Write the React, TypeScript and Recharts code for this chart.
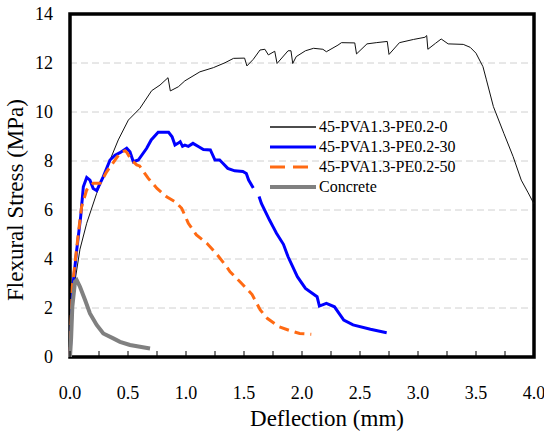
import React from 'react';
import { LineChart, Line, XAxis, YAxis, CartesianGrid, ReferenceArea, Legend, Label } from 'recharts';

const FONT = 'Liberation Serif, Tinos, Times New Roman, Times, DejaVu Serif, serif';

// [deflection (mm), flexural stress (MPa)]
const pva0: [number, number][] = [
  [0, 0], [0.03, 2.6], [0.043, 3.1], [0.086, 4.4], [0.144, 5.46], [0.23, 6.68], [0.345, 8.04], [0.416, 8.86],
  [0.503, 9.67], [0.603, 10.15], [0.704, 10.87], [0.776, 11.1], [0.845, 11.4], [0.865, 10.86], [0.934, 11.03],
  [0.99, 11.27], [1.12, 11.64], [1.236, 11.81], [1.336, 12.01], [1.41, 12.19], [1.505, 12.2], [1.525, 11.88],
  [1.58, 12.15], [1.638, 12.53], [1.68, 12.56], [1.71, 12.33], [1.765, 12.48], [1.785, 11.98], [1.88, 12.5],
  [1.905, 12.5], [1.92, 11.98], [1.95, 12.26], [2.03, 12.5], [2.1, 12.6], [2.18, 12.56], [2.21, 12.46],
  [2.31, 12.73], [2.34, 12.83], [2.455, 12.82], [2.47, 12.37], [2.56, 12.78], [2.64, 12.83], [2.735, 12.88],
  [2.75, 12.35], [2.84, 12.83], [2.96, 12.96], [3.06, 13.05], [3.075, 13.12], [3.085, 12.56], [3.15, 12.8],
  [3.2, 12.98], [3.26, 12.78], [3.39, 12.76], [3.45, 12.64], [3.5, 12.4], [3.56, 11.85], [3.59, 11.31],
  [3.65, 10.22], [3.74, 9.13], [3.82, 8.18], [3.89, 7.22], [3.95, 6.7], [4.0, 6.25],
];

const pva30: [number, number | null][] = [
  [0, 0], [0.01, 1.0], [0.02, 2.5], [0.03, 3.14], [0.058, 4.37], [0.092, 5.73], [0.115, 6.95], [0.144, 7.33],
  [0.172, 7.22], [0.2, 6.88], [0.23, 6.79], [0.287, 7.36], [0.345, 8.04], [0.388, 8.24], [0.431, 8.34],
  [0.489, 8.52], [0.517, 8.38], [0.546, 7.97], [0.589, 8.04], [0.661, 8.52], [0.7, 8.86], [0.76, 9.17],
  [0.85, 9.17], [0.88, 8.99], [0.905, 8.65], [0.93, 8.72], [0.95, 8.79], [0.97, 8.6], [0.99, 8.65],
  [1.02, 8.6], [1.06, 8.72], [1.11, 8.58], [1.15, 8.47], [1.21, 8.45], [1.25, 8.04], [1.29, 8.04],
  [1.32, 7.9], [1.36, 7.7], [1.42, 7.6], [1.49, 7.57], [1.52, 7.49], [1.54, 7.22], [1.58, 6.9], [1.6, null],
  [1.63, 6.55], [1.65, 6.27], [1.72, 5.59], [1.75, 5.32], [1.78, 5.05], [1.84, 4.6], [1.88, 4.09],
  [1.96, 3.28], [2.03, 2.8], [2.13, 2.46], [2.15, 2.08], [2.21, 2.19], [2.28, 2.05], [2.36, 1.51],
  [2.44, 1.31], [2.59, 1.13], [2.73, 0.99],
];

const pva50: [number, number][] = [
  [0, 0], [0.01, 1.5], [0.02, 2.87], [0.043, 3.82], [0.072, 5.05], [0.1, 6.13], [0.144, 6.82], [0.2, 7.09],
  [0.26, 7.09], [0.316, 7.56], [0.388, 8.04], [0.43, 8.31], [0.474, 8.42], [0.49, 8.35], [0.53, 8.04],
  [0.575, 7.84], [0.6, 7.8], [0.675, 7.29], [0.75, 6.88], [0.833, 6.54], [0.905, 6.34], [0.963, 6.07],
  [1.02, 5.46], [1.09, 4.98], [1.18, 4.64], [1.26, 4.23], [1.35, 3.69], [1.38, 3.48], [1.48, 3.0],
  [1.57, 2.55], [1.64, 1.92], [1.7, 1.58], [1.8, 1.24], [1.9, 1.07], [1.98, 0.96], [2.08, 0.93],
];

const concrete: [number, number][] = [
  [0, 0], [0.01, 0.8], [0.02, 2.05], [0.043, 3.07], [0.058, 3.14], [0.086, 2.87], [0.13, 2.33], [0.172, 1.78],
  [0.23, 1.31], [0.287, 0.96], [0.373, 0.76], [0.431, 0.62], [0.517, 0.49], [0.603, 0.42], [0.69, 0.35],
];

const xTicks = [0, 0.25, 0.5, 0.75, 1, 1.25, 1.5, 1.75, 2, 2.25, 2.5, 2.75, 3, 3.25, 3.5, 3.75, 4];
const yTicks = [0, 2, 4, 6, 8, 10, 12, 14];
const gridValues = [2, 4, 6, 8, 10, 12];

const seriesNames = ['45-PVA1.3-PE0.2-0', '45-PVA1.3-PE0.2-30', '45-PVA1.3-PE0.2-50', 'Concrete'];

const toRows = (arr: [number, number | null][]) => arr.map(([x, y]) => ({ x, y }));

const series = [
  { name: seriesNames[0], data: toRows(pva0), color: '#111111', width: 1, dash: undefined as string | undefined, legendDash: undefined as string | undefined },
  { name: seriesNames[1], data: toRows(pva30), color: '#0000ff', width: 3, dash: undefined, legendDash: undefined },
  { name: seriesNames[2], data: toRows(pva50), color: '#ff6a13', width: 3, dash: '10 6', legendDash: '15 8' },
  { name: seriesNames[3], data: toRows(concrete), color: '#808080', width: 4, dash: undefined, legendDash: undefined },
];

const XTick = (props: any) => {
  const { x, y, payload } = props;
  const v = payload.value as number;
  const labeled = Math.abs(v * 2 - Math.round(v * 2)) < 1e-6;
  return (
    <g>
      <line x1={x} x2={x} y1={y} y2={y - 6} stroke="#000" strokeWidth={1} />
      {labeled && (
        <text x={x} y={y + 42} textAnchor="middle" fontSize={18} fontFamily={FONT} fill="#000">
          {v.toFixed(1)}
        </text>
      )}
    </g>
  );
};

const LegendContent = () => (
  <div style={{ fontFamily: FONT, fontSize: 16, color: '#000' }}>
    {series.map((s) => (
      <div key={s.name} style={{ display: 'flex', alignItems: 'center', height: 20 }}>
        <svg width={46} height={20} style={{ display: 'block' }}>
          <line x1={0} x2={46} y1={10} y2={10} stroke={s.color} strokeWidth={s.width === 1 ? 1.3 : s.width} strokeDasharray={s.legendDash} />
        </svg>
        <span style={{ marginLeft: 3, whiteSpace: 'nowrap', lineHeight: '20px' }}>{s.name}</span>
      </div>
    ))}
  </div>
);

export default function App() {
  return (
    <div style={{ position: 'absolute', left: 0, top: 0, width: 544, height: 431, background: '#fff', fontFamily: FONT }}>
      <LineChart
        width={544}
        height={431}
        margin={{ top: 14, right: 10, left: 0, bottom: 0 }}
        style={{ fontFamily: FONT }}
      >
        <CartesianGrid
          vertical={false}
          horizontalValues={gridValues}
          stroke="#d0d0d0"
          strokeDasharray="7 4"
        />
        <XAxis
          type="number"
          dataKey="x"
          domain={[0, 4]}
          ticks={xTicks}
          interval={0}
          height={74}
          axisLine={false}
          tickLine={false}
          tickSize={0}
          tickMargin={0}
          tick={<XTick />}
        >
          <Label
            content={() => (
              <text x={327} y={426} textAnchor="middle" fontSize={23} fontFamily={FONT} fill="#000">
                Deflection (mm)
              </text>
            )}
          />
        </XAxis>
        <YAxis
          type="number"
          domain={[0, 14]}
          ticks={yTicks}
          interval={0}
          width={70}
          axisLine={false}
          tickLine={false}
          tickSize={0}
          tickMargin={17}
          tick={{ fontSize: 18, fill: '#000', fontFamily: FONT }}
        >
          <Label
            content={() => (
              <text x={23} y={200} transform="rotate(-90 23 200)" textAnchor="middle" fontSize={23} fontFamily={FONT} fill="#000">
                Flexural Stress (MPa)
              </text>
            )}
          />
        </YAxis>
        {series.map((s) => (
          <Line
            key={s.name}
            name={s.name}
            data={s.data}
            dataKey="y"
            type="linear"
            stroke={s.color}
            strokeWidth={s.width}
            strokeDasharray={s.dash}
            dot={false}
            activeDot={false}
            isAnimationActive={false}
            connectNulls={false}
          />
        ))}
        <ReferenceArea x1={0} x2={4} y1={0} y2={14} fill="#fff" fillOpacity={0} stroke="#000" strokeWidth={3.5} ifOverflow="visible" />
        <Legend
          layout="vertical"
          align="center"
          verticalAlign="middle"
          content={<LegendContent />}
          wrapperStyle={{ left: 270, top: 117, width: 260 }}
        />
      </LineChart>
    </div>
  );
}
